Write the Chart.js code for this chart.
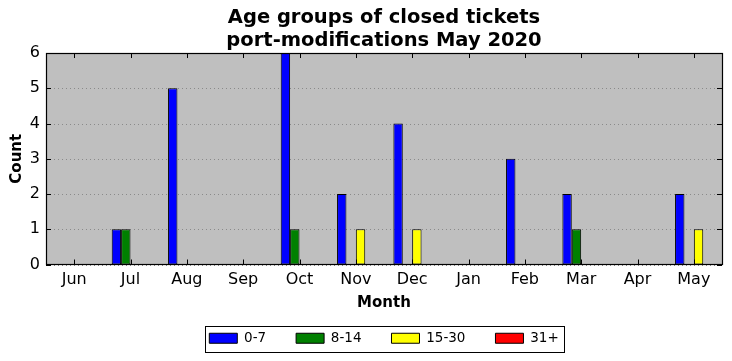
<!DOCTYPE html>
<html>
<head>
<meta charset="utf-8">
<script src="https://cdn.jsdelivr.net/npm/chart.js@4.4.0/dist/chart.umd.min.js"></script>
<style>
html,body{margin:0;padding:0;background:#fff;}
#wrap{width:732px;height:361px;}
</style>
</head>
<body>
<div id="wrap"><canvas id="c" width="732" height="361"></canvas></div>
<script>
const months = ["Jun","Jul","Aug","Sep","Oct","Nov","Dec","Jan","Feb","Mar","Apr","May"];
const age0to7   = [0,1,5,0,6,2,4,0,3,2,0,2];
const age8to14  = [0,1,0,0,1,0,0,0,0,1,0,0];
const age15to30 = [0,0,0,0,0,1,1,0,0,0,0,1];
const age31plus = [0,0,0,0,0,0,0,0,0,0,0,0];
const yTicks = [0,1,2,3,4,5,6];

const FONT = "'DejaVu Sans', sans-serif";

const framePlugin = {
  id: 'framePlugin',
  beforeDraw(chart) {
    const {ctx, chartArea: a} = chart;
    ctx.save();
    ctx.fillStyle = '#bfbfbf';
    ctx.fillRect(a.left, a.top, a.right - a.left, a.bottom - a.top);
    const y = chart.scales.y;
    ctx.strokeStyle = '#8a8a8a';
    ctx.lineWidth = 1;
    ctx.setLineDash([1, 3]);
    yTicks.forEach(v => {
      const py = Math.round(y.getPixelForValue(v)) + 0.5;
      ctx.beginPath(); ctx.moveTo(a.left, py); ctx.lineTo(a.right, py); ctx.stroke();
    });
    ctx.restore();
  },
  afterDatasetsDraw(chart) {
    const {ctx, chartArea: a} = chart;
    const x = chart.scales.x, y = chart.scales.y;
    ctx.save();
    ctx.strokeStyle = '#000';
    ctx.lineWidth = 1;
    ctx.setLineDash([]);
    for (let i = 0; i < months.length; i++) {
      const px = Math.round(x.getPixelForTick(i)) + 0.5;
      ctx.beginPath();
      ctx.moveTo(px, a.bottom); ctx.lineTo(px, a.bottom - 5);
      ctx.moveTo(px, a.top); ctx.lineTo(px, a.top + 5);
      ctx.stroke();
    }
    yTicks.forEach(v => {
      const py = Math.round(y.getPixelForValue(v)) + 0.5;
      ctx.beginPath();
      ctx.moveTo(a.left, py); ctx.lineTo(a.left + 5, py);
      ctx.moveTo(a.right, py); ctx.lineTo(a.right - 5, py);
      ctx.stroke();
    });
    ctx.lineWidth = 1.2;
    ctx.strokeRect(Math.round(a.left) + 0.5, Math.round(a.top) + 0.5, Math.round(a.right - a.left), Math.round(a.bottom - a.top));
    ctx.restore();
  },
  afterDraw(chart) {
    const lg = chart.legend;
    if (!lg || !lg.legendHitBoxes || !lg.legendHitBoxes.length) return;
    const hb = lg.legendHitBoxes;
    const left = hb[0].left - 4;
    const last = hb[hb.length - 1];
    const right = last.left + last.width + 6;
    const top = Math.min(...hb.map(h => h.top)) - 6;
    const bottom = Math.max(...hb.map(h => h.top + h.height)) + 6;
    const ctx = chart.ctx;
    ctx.save();
    ctx.strokeStyle = '#000';
    ctx.lineWidth = 1;
    ctx.strokeRect(Math.round(left) + 0.5, Math.round(top) + 0.5, Math.round(right - left), Math.round(bottom - top));
    ctx.restore();
  }
};

const mkDs = (label, data, color) => ({
  label, data,
  backgroundColor: color,
  borderColor: '#000',
  borderWidth: 1,
  borderSkipped: false,
  inflateAmount: 0,
  categoryPercentage: 0.667,
  barPercentage: 1.0
});

new Chart(document.getElementById('c'), {
  type: 'bar',
  data: {
    labels: months,
    datasets: [
      mkDs('0-7', age0to7, '#0000ff'),
      mkDs('8-14', age8to14, '#008000'),
      mkDs('15-30', age15to30, '#ffff00'),
      mkDs('31+', age31plus, '#ff0000')
    ]
  },
  options: {
    responsive: false,
    animation: false,
    devicePixelRatio: 1,
    layout: { padding: { left: 0, right: 10, top: 0, bottom: 6 } },
    plugins: {
      tooltip: { enabled: false },
      title: {
        display: true,
        fullSize: false,
        text: ['Age groups of closed tickets', 'port-modifications May 2020'],
        color: '#000',
        font: { family: FONT, size: 19.5, weight: 'bold', lineHeight: 1.18 },
        padding: { top: 6.5, bottom: 0.5 }
      },
      legend: {
        position: 'bottom',
        fullSize: false,
        labels: {
          color: '#000',
          font: { family: FONT, size: 13.5 },
          boxWidth: 28,
          boxHeight: 10,
          padding: 30
        }
      }
    },
    scales: {
      x: {
        grid: { display: false, drawTicks: false },
        border: { display: false },
        ticks: { color: '#000', font: { family: FONT, size: 16 }, padding: 6, maxRotation: 0 },
        title: { display: true, text: 'Month', color: '#000', font: { family: FONT, size: 15, weight: 'bold' }, padding: { top: 4, bottom: -11 } },
        afterFit(s) { s.height = 37; }
      },
      y: {
        min: 0, max: 6,
        grid: { display: false, drawTicks: false },
        border: { display: false },
        ticks: { color: '#000', font: { family: FONT, size: 16 }, padding: 6, stepSize: 1 },
        title: { display: true, text: 'Count', color: '#000', font: { family: FONT, size: 15, weight: 'bold' }, padding: { top: 8, bottom: 0 } },
        afterFit(s) { s.width = 46; }
      }
    }
  },
  plugins: [framePlugin]
});
</script>
</body>
</html>
